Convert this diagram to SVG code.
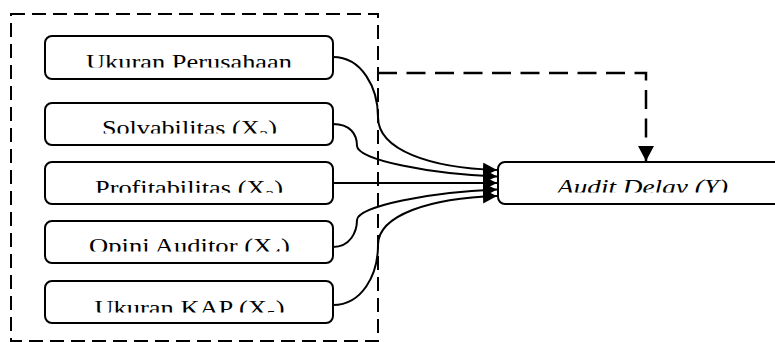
<svg xmlns="http://www.w3.org/2000/svg" width="775" height="342" viewBox="0 0 775 342">
  <style>
    .box { fill: #ffffff; stroke: #000000; stroke-width: 2; }
    .frame { fill: none; stroke: #000000; stroke-width: 2; stroke-dasharray: 14 7; }
    .lbl { font-family: "Liberation Serif", "Times New Roman", serif; font-size: 21px; fill: #000000; }
    .it { font-style: italic; }
    .sub { font-size: 14px; }
    .link { fill: none; stroke: #000000; stroke-width: 2; }
    .dash { fill: none; stroke: #000000; stroke-width: 2.5; stroke-dasharray: 19 9.5; }
  </style>
  <defs>
    <marker id="head" markerUnits="userSpaceOnUse" markerWidth="16" markerHeight="16" refX="14" refY="7" orient="auto">
      <path d="M0,0 L14,7 L0,14 Z" fill="#000000" stroke="none"/>
    </marker>
    <marker id="headDown" markerUnits="userSpaceOnUse" markerWidth="18" markerHeight="18" refX="15" refY="8" orient="auto">
      <path d="M0,0 L15,8 L0,16 Z" fill="#000000" stroke="none"/>
    </marker>
    <clipPath id="c1"><rect x="45" y="36" width="288" height="31.5"/></clipPath>
    <clipPath id="c2"><rect x="45" y="103" width="288" height="30.5"/></clipPath>
    <clipPath id="c3"><rect x="45" y="162" width="288" height="30.8"/></clipPath>
    <clipPath id="c4"><rect x="45" y="221" width="288" height="30.5"/></clipPath>
    <clipPath id="c5"><rect x="45" y="281" width="288" height="31.4"/></clipPath>
    <clipPath id="cy"><rect x="498" y="162" width="290" height="30.4"/></clipPath>
  </defs>

  <!-- dashed grouping frame around the independent variables -->
  <rect class="frame" x="11" y="14" width="367" height="327"/>

  <g id="connectors">
    <path class="link" d="M333,57 C362,57 378,88 378,117 C378,150 430,168 497,170" marker-end="url(#head)"/>
    <path class="link" d="M333,124 C350,124 357,134 357,146 C358,160 430,174 497,176.5" marker-end="url(#head)"/>
    <path class="link" d="M333,183 L497,183" marker-end="url(#head)"/>
    <path class="link" d="M333,247 C350,247 357,232 357,220 C358,206 430,192 497,189.5" marker-end="url(#head)"/>
    <path class="link" d="M333,305 C362,305 378,275 378,245 C378,215 430,198 497,196" marker-end="url(#head)"/>
    <path class="dash" d="M378,73 H646 V161" marker-end="url(#headDown)"/>
  </g>

  <g id="ukuran-perusahaan">
    <rect class="box" x="45" y="36" width="288" height="43" rx="7"/>
    <text class="lbl" x="189" y="69" text-anchor="middle" textLength="206" lengthAdjust="spacingAndGlyphs" clip-path="url(#c1)">Ukuran Perusahaan</text>
  </g>

  <g id="solvabilitas">
    <rect class="box" x="45" y="103" width="288" height="42" rx="7"/>
    <text class="lbl" x="189.5" y="135" text-anchor="middle" textLength="175" lengthAdjust="spacingAndGlyphs" clip-path="url(#c2)">Solvabilitas (X<tspan class="sub" dy="6">2</tspan><tspan dy="-6">)</tspan></text>
  </g>

  <g id="profitabilitas">
    <rect class="box" x="45" y="162" width="288" height="42" rx="7"/>
    <text class="lbl" x="189" y="194.6" text-anchor="middle" textLength="188" lengthAdjust="spacingAndGlyphs" clip-path="url(#c3)">Profitabilitas (X<tspan class="sub" dy="6">3</tspan><tspan dy="-6">)</tspan></text>
  </g>

  <g id="opini-auditor">
    <rect class="box" x="45" y="221" width="288" height="42" rx="7"/>
    <text class="lbl" x="189.5" y="252.6" text-anchor="middle" textLength="201" lengthAdjust="spacingAndGlyphs" clip-path="url(#c4)">Opini Auditor (X<tspan class="sub" dy="6">4</tspan><tspan dy="-6">)</tspan></text>
  </g>

  <g id="ukuran-kap">
    <rect class="box" x="45" y="281" width="288" height="42" rx="7"/>
    <text class="lbl" x="189.5" y="314.6" text-anchor="middle" textLength="190" lengthAdjust="spacingAndGlyphs" clip-path="url(#c5)">Ukuran KAP (X<tspan class="sub" dy="6">5</tspan><tspan dy="-6">)</tspan></text>
  </g>

  <g id="audit-delay">
    <rect class="box" x="498" y="162" width="290" height="42" rx="7"/>
    <text class="lbl it" x="642.5" y="194" text-anchor="middle" textLength="171" lengthAdjust="spacingAndGlyphs" clip-path="url(#cy)">Audit Delay (Y)</text>
  </g>
</svg>
